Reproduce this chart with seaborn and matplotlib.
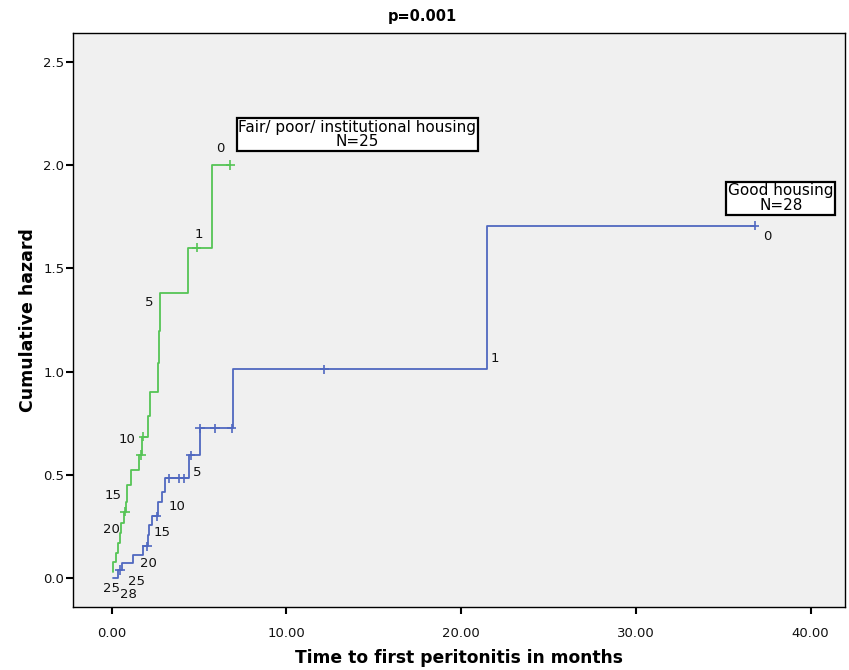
import pandas as pd
import seaborn as sns
import matplotlib.pyplot as plt

# cumulative hazard steps (months, hazard after the step)
good_time = [0.09, 0.35, 0.62, 1.24, 1.81, 2.10, 2.15, 2.29, 2.67, 2.90, 3.05, 4.45, 5.03, 6.96, 21.50]
good_haz = [0.0, 0.040, 0.075, 0.113, 0.155, 0.210, 0.258, 0.300, 0.370, 0.420, 0.484, 0.596, 0.726, 1.012, 1.706]
good_end = 36.80
good_cens_time = [0.475, 2.03, 2.57, 3.30, 3.85, 4.15, 4.52, 5.05, 5.91, 6.87, 12.17, 36.80]
good_cens_haz = [0.040, 0.155, 0.300, 0.484, 0.484, 0.484, 0.596, 0.726, 0.726, 0.726, 1.012, 1.706]

poor_time = [0.05, 0.06, 0.27, 0.36, 0.46, 0.56, 0.68, 0.80, 0.86, 1.09, 1.58, 1.72, 2.06, 2.19, 2.63, 2.72, 2.76, 4.35, 5.76]
poor_haz = [0.03, 0.08, 0.125, 0.17, 0.22, 0.27, 0.32, 0.37, 0.451, 0.524, 0.597, 0.685, 0.785, 0.903, 1.04, 1.196, 1.379, 1.60, 2.00]
poor_end = 6.80
poor_cens_time = [0.76, 1.68, 1.81, 4.86, 6.80]
poor_cens_haz = [0.322, 0.597, 0.685, 1.60, 2.00]

# numbers at risk printed along the curves
good_risk = ["28", "25", "20", "15", "10", "5", "1", "0"]
poor_risk = ["25", "20", "15", "10", "5", "1", "0"]

groups = ["Good housing", "Fair/ poor/ institutional housing"]
group_n = [28, 25]

x_ticks = [0, 10, 20, 30, 40]
y_ticks = [0.0, 0.5, 1.0, 1.5, 2.0, 2.5]

# where the risk numbers sit (layout only)
good_risk_pos = [(0.95, -0.076), (1.42, -0.016), (2.10, 0.073), (2.91, 0.221), (3.72, 0.350),
                 (4.88, 0.514), (21.94, 1.064), (37.55, 1.656)]
poor_risk_pos = [(0.0, -0.048), (0.0, 0.234), (0.09, 0.403), (0.86, 0.671), (2.14, 1.333),
                 (5.01, 1.666), (6.20, 2.080)]

green = "#55c455"
blue = "#5068c0"

curve = pd.DataFrame({
    "time": good_time + [good_end] + poor_time + [poor_end],
    "haz": good_haz + [good_haz[-1]] + poor_haz + [poor_haz[-1]],
    "group": [groups[0]] * (len(good_time) + 1) + [groups[1]] * (len(poor_time) + 1),
})
cens = pd.DataFrame({
    "time": good_cens_time + poor_cens_time,
    "haz": good_cens_haz + poor_cens_haz,
    "group": [groups[0]] * len(good_cens_time) + [groups[1]] * len(poor_cens_time),
})

sns.set_style("ticks", {"axes.facecolor": "#f0f0f0", "axes.edgecolor": "black"})
plt.rcParams["font.family"] = ["DejaVu Sans"]

fig = plt.figure(figsize=(8.49, 6.70), dpi=100)
ax = fig.add_axes([0.0856, 0.0936, 0.9097, 0.8576])

pal = {groups[0]: blue, groups[1]: green}
sns.lineplot(data=curve, x="time", y="haz", hue="group", palette=pal, estimator=None,
             drawstyle="steps-post", linewidth=1.3, legend=False, ax=ax)
sns.scatterplot(data=cens, x="time", y="haz", hue="group", palette=pal, marker="+",
                s=45, linewidth=1.2, legend=False, ax=ax, zorder=3)

for txt, (x, y) in zip(good_risk, good_risk_pos):
    ax.text(x, y, txt, ha="center", va="center", fontsize=9.5, color="#111111")
for txt, (x, y) in zip(poor_risk, poor_risk_pos):
    ax.text(x, y, txt, ha="center", va="center", fontsize=9.5, color="#111111")

box = dict(boxstyle="square,pad=0.12", facecolor="white", edgecolor="black", linewidth=1.6)
narrow = ["Liberation Sans Narrow", "DejaVu Sans"]
ax.text(14.07, 2.148, f"{groups[1]}\nN={group_n[1]}", ha="center", va="center",
        fontsize=11, family=narrow, linespacing=0.95, color="black", bbox=box)
ax.text(38.3, 1.84, f"{groups[0]}\nN={group_n[0]}", ha="center", va="center",
        fontsize=11, family=narrow, linespacing=0.95, color="black", bbox=box)

ax.set_xlim(-2.23, 41.97)
ax.set_ylim(-0.14, 2.64)
ax.set_xticks(x_ticks)
ax.set_xticklabels([f"{v:.2f}" for v in x_ticks])
ax.set_yticks(y_ticks)
ax.set_yticklabels([f"{v:.1f}" for v in y_ticks])
ax.tick_params(axis="both", direction="out", length=5, width=1.5, color="black",
               labelsize=9.5, labelcolor="#111111")
ax.tick_params(axis="x", pad=9)
ax.tick_params(axis="y", pad=1)
for sp in ax.spines.values():
    sp.set_linewidth(1.0)
    sp.set_color("black")

ax.set_xlabel("Time to first peritonitis in months", fontsize=12.3, fontweight="bold", color="black")
ax.set_ylabel("Cumulative hazard", fontsize=12.5, fontweight="bold", color="black")
ax.xaxis.set_label_coords(0.5, -0.072)
ax.yaxis.set_label_coords(-0.046, 0.5)
fig.text(0.497, 0.976, "p=0.001", ha="center", va="center", fontsize=10.5,
         fontweight="bold", color="black")

fig.savefig("out.png", dpi=100)
